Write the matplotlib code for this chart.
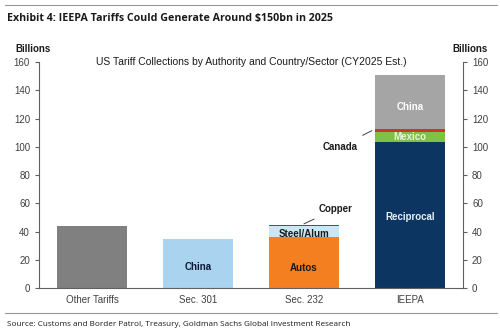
import matplotlib
matplotlib.use("Agg")
import matplotlib.pyplot as plt
from matplotlib.lines import Line2D

categories = ["Other Tariffs", "Sec. 301", "Sec. 232", "IEEPA"]
other_tariffs = [44.0]
sec301_china = [35.0]
sec232_segments = ["Autos", "Steel/Alum", "Copper"]
sec232_values = [36.0, 8.0, 1.0]
ieepa_segments = ["Reciprocal", "Mexico", "Canada", "China"]
ieepa_values = [103.5, 7.0, 2.5, 38.0]
yticks = [0, 20, 40, 60, 80, 100, 120, 140, 160]

fig = plt.figure(figsize=(5.0, 3.34), dpi=100)
ax = fig.add_axes([0.078, 0.1377, 0.848, 0.676])
W = 0.66
FONT = ["Liberation Sans", "DejaVu Sans"]
LB = dict(ha="center", va="center", fontsize=7, fontweight="bold", family=FONT)

ax.bar(0, other_tariffs[0], width=W, color="#808080")
ax.bar(1, sec301_china[0], width=W, color="#a9d3ef")
ax.text(1, 15, "China", color="#0b1a30", **LB)

c232 = ["#f47f20", "#cbe7f6", "#1d6e5c"]
b = 0
for v, c in zip(sec232_values, c232):
    ax.bar(2, v, bottom=b, width=W, color=c)
    b += v
ax.text(2, 14, "Autos", color="#1a1a1a", **LB)
ax.text(2, 38.5, "Steel/Alum", color="#1a1a1a", **LB)

cie = ["#0c3561", "#7dc242", "#c8372d", "#a5a5a5"]
b = 0
for v, c in zip(ieepa_values, cie):
    ax.bar(3, v, bottom=b, width=W, color=c)
    b += v
ax.text(3, 50.5, "Reciprocal", color="#e8f0f8", **LB)
ax.text(3, 107, "Mexico", color="#e8f4e0", **LB)
ax.text(3, 128, "China", color="#ffffff", **LB)

# annotations
ax.annotate("Copper", xy=(2.0, 45.5), xytext=(2.3, 56), color="#1a1a1a",
            arrowprops=dict(arrowstyle="-", color="#404040", lw=0.7, shrinkA=4, shrinkB=0), **LB)
ax.annotate("Canada", xy=(2.64, 111.5), xytext=(2.34, 100), color="#1a1a1a",
            arrowprops=dict(arrowstyle="-", color="#404040", lw=0.7, shrinkA=6, shrinkB=0), **LB)

ax.set_xlim(-0.5, 3.5)
ax.set_ylim(0, 160)
ax.set_yticks(yticks)
ax.set_xticks(range(len(categories)))
ax.set_xticklabels(categories, fontsize=7, color="#404040", family=FONT)
ax.tick_params(axis="x", length=0, pad=5)
ax.tick_params(axis="y", labelsize=7, labelcolor="#404040", length=3, color="#606060",
               left=True, right=True, labelright=True, direction="out", width=0.8)
for lab in ax.get_yticklabels():
    lab.set_family(FONT)
ax.spines["top"].set_visible(False)
for s in ["left", "right", "bottom"]:
    ax.spines[s].set_color("#606060")
    ax.spines[s].set_linewidth(0.8)

ax.text(0.5, 1.0, "US Tariff Collections by Authority and Country/Sector (CY2025 Est.)",
        transform=ax.transAxes, ha="center", va="center", fontsize=7.45, color="#1a1a1a",
        family=FONT)

fig.text(15/500, 1-49/334, "Billions", ha="left", va="center", fontsize=7, fontweight="bold",
         color="#1a1a1a", family=FONT)
fig.text(488/500, 1-49/334, "Billions", ha="right", va="center", fontsize=7, fontweight="bold",
         color="#1a1a1a", family=FONT)

fig.text(7/500, 1-18/334, "Exhibit 4: IEEPA Tariffs Could Generate Around $150bn in 2025",
         ha="left", va="center", fontsize=7.7, fontweight="bold", color="#1a1a1a",
         family=["Open Sans", "DejaVu Sans"])
fig.text(7/500, 1-325/334, "Source: Customs and Border Patrol, Treasury, Goldman Sachs Global Investment Research",
         ha="left", va="center", fontsize=5.9, color="#1a1a1a", family=["Open Sans", "DejaVu Sans"])

fig.add_artist(Line2D([5/500, 497/500], [1-5/334, 1-5/334], color="#999999", lw=0.8))
fig.add_artist(Line2D([5/500, 497/500], [1-313/334, 1-313/334], color="#999999", lw=0.8))

fig.savefig("out.png", dpi=100)
